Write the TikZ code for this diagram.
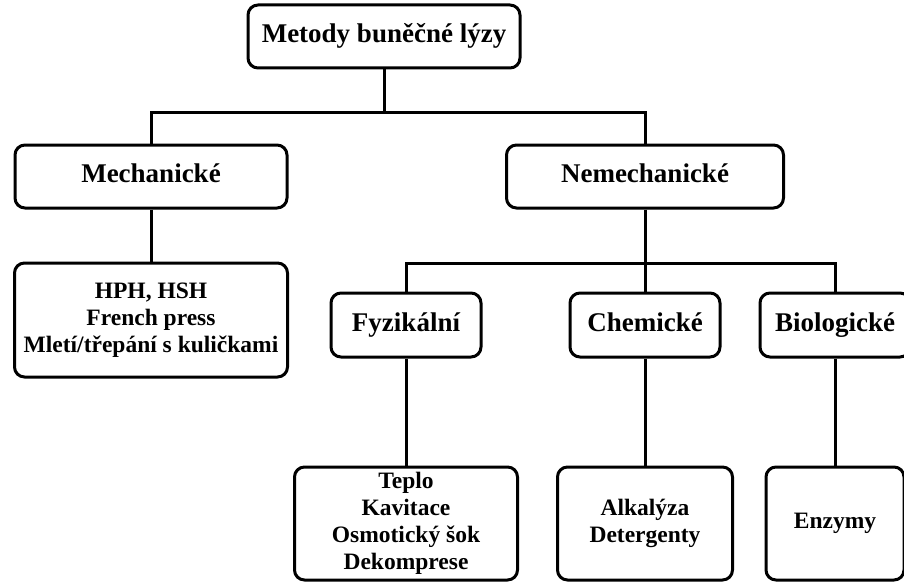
\documentclass[tikz,border=0pt]{standalone}
\usepackage{fontspec}
\setmainfont{Liberation Serif}
\begin{document}
\begin{tikzpicture}[x=1pt,y=-1pt,line width=3pt,
    frame/.style={draw,rounded corners=10pt,align=center,inner sep=0pt},
    box/.style={frame,text height=18pt,text depth=6pt,font=\bfseries\fontsize{27}{30}\selectfont},
    leaf/.style={frame,font=\bfseries\fontsize{23.5}{27}\selectfont}]
    \useasboundingbox(0,0)rectangle(904,583);
    \node[box,minimum width=272,minimum height=63](top)at(384,36.5){Metody buněčné lýzy};
    \node[box,minimum width=272,minimum height=63](mech)at(151,176.5){Mechanické};
    \node[box,minimum width=277,minimum height=63](nemech)at(645,176.5){Nemechanické};
    \node[leaf,minimum width=273,minimum height=114](hph)at(151,320){HPH, HSH\\French press\\Mletí/třepání s kuličkami};
    \node[box,minimum width=150,minimum height=64](fyz)at(406,325){Fyzikální};
    \node[box,minimum width=150,minimum height=64](chem)at(645,325){Chemické};
    \node[box,minimum width=150,minimum height=64](bio)at(835,325){Biologické};
    \node[leaf,minimum width=223,minimum height=113](teplo)at(406,523.5){Teplo\\Kavitace\\Osmotický šok\\Dekomprese};
    \node[leaf,minimum width=175,minimum height=113](alk)at(645,523.5){Alkalýza\\Detergenty};
    \node[leaf,minimum width=138,minimum height=113](enz)at(835,523.5){Enzymy};
    \coordinate(bus1)at(384,113);
    \coordinate(bus2)at(645,263);
    \draw(top)--(bus1);
    \draw(mech)--(mech|-bus1)--(nemech|-bus1)--(nemech);
    \draw(mech)--(hph);
    \draw(nemech)--(chem);
    \draw(fyz)--(fyz|-bus2)--(bio|-bus2)--(bio);
    \draw(fyz)--(teplo) (chem)--(alk) (bio)--(enz);
\end{tikzpicture}
\end{document}
